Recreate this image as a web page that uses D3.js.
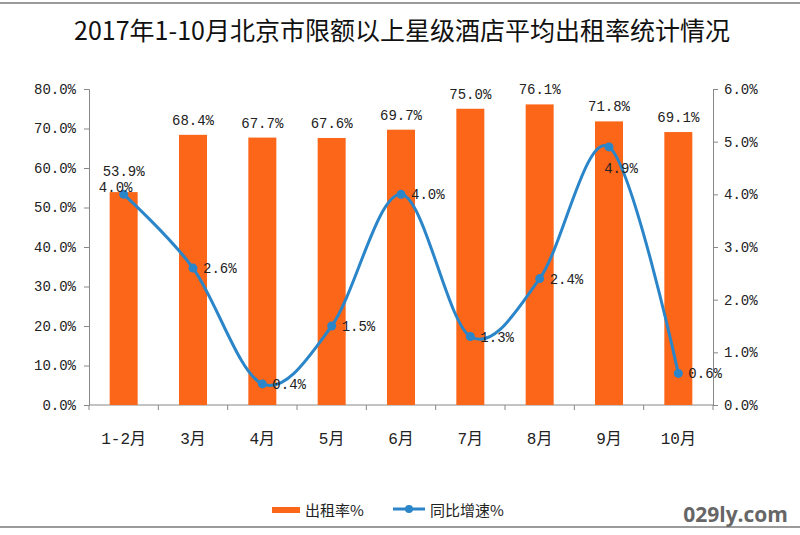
<!DOCTYPE html>
<html><head><meta charset="utf-8">
<script src="https://cdn.jsdelivr.net/npm/d3@7"></script>
<style>body{margin:0;background:#fff}svg{display:block}</style>
</head><body>
<script>
const categories = ["1-2月","3月","4月","5月","6月","7月","8月","9月","10月"];
const rentRate = [53.9,68.4,67.7,67.6,69.7,75.0,76.1,71.8,69.1];
const growth = [4.0,2.6,0.4,1.5,4.0,1.3,2.4,4.9,0.6];
const leftTicks = [0,10,20,30,40,50,60,70,80];
const rightTicks = [0,1,2,3,4,5,6];

const W=800,H=535;
const M={l:89,r:713,t:89,b:405};
const mono = "'Liberation Mono','Noto Sans CJK SC',monospace";
const svg=d3.select("body").append("svg").attr("width",W).attr("height",H);
svg.append("rect").attr("width",W).attr("height",H).attr("fill","#fff");
svg.append("line").attr("x1",0).attr("x2",W).attr("y1",3).attr("y2",3).attr("stroke","#9a9a9a").attr("stroke-width",2);
svg.append("line").attr("x1",0).attr("x2",W).attr("y1",527).attr("y2",527).attr("stroke","#9a9a9a").attr("stroke-width",2);

svg.append("text").attr("x",402).attr("y",40).attr("text-anchor","middle")
  .attr("font-family","'Noto Sans CJK SC'").attr("font-size",25).attr("font-weight",400).attr("fill","#111")
  .text("2017年1-10月北京市限额以上星级酒店平均出租率统计情况");

const x=d3.scaleBand().domain(categories).range([M.l,M.r]);
const yL=d3.scaleLinear().domain([0,80]).range([M.b,M.t]);
const yR=d3.scaleLinear().domain([0,6]).range([M.b,M.t]);
const bw=28;

// axes
const axL=svg.append("g").attr("transform",`translate(${M.l},0)`)
  .call(d3.axisLeft(yL).tickValues(leftTicks).tickSize(5).tickPadding(8).tickFormat(d=>d.toFixed(1)+"%"));
const axR=svg.append("g").attr("transform",`translate(${M.r},0)`)
  .call(d3.axisRight(yR).tickValues(rightTicks).tickSize(5).tickPadding(6).tickFormat(d=>d.toFixed(1)+"%"));
[axL,axR].forEach(a=>{a.select(".domain").attr("stroke","#888");a.selectAll(".tick line").attr("stroke","#888");
  a.selectAll("text").attr("font-family",mono).attr("font-size",14).attr("fill","#222");});

// x axis
const gx=svg.append("g");
gx.append("line").attr("x1",M.l).attr("x2",M.r).attr("y1",M.b).attr("y2",M.b).attr("stroke","#888");
const bounds=categories.map(c=>x(c)).concat([M.r]);
gx.selectAll(".xt").data(bounds).enter().append("line").attr("x1",d=>d).attr("x2",d=>d)
  .attr("y1",M.b).attr("y2",M.b+5).attr("stroke","#888");
gx.selectAll(".xl").data(categories).enter().append("text")
  .attr("x",d=>x(d)+x.bandwidth()/2).attr("y",444).attr("text-anchor","middle")
  .attr("font-family",mono).attr("font-size",16).attr("fill","#222").text(d=>d);

// bars
const barColor="#fb6619";
svg.selectAll(".bar").data(rentRate).enter().append("rect")
  .attr("x",(d,i)=>x(categories[i])+x.bandwidth()/2-bw/2).attr("width",bw)
  .attr("y",d=>yL(d)).attr("height",d=>M.b-yL(d)).attr("fill",barColor);
svg.selectAll(".bl").data(rentRate).enter().append("text")
  .attr("x",(d,i)=>x(categories[i])+x.bandwidth()/2).attr("y",(d,i)=>yL(d)-(i===0?16:10))
  .attr("text-anchor","middle").attr("font-family",mono).attr("font-size",14).attr("fill","#222")
  .text(d=>d.toFixed(1)+"%");

// line
const lineColor="#2a85c9";
const cx=i=>x(categories[i])+x.bandwidth()/2;
const line=d3.line().x((d,i)=>cx(i)).y(d=>yR(d)).curve(d3.curveCardinal.tension(0));
svg.append("path").datum(growth).attr("d",line).attr("fill","none").attr("stroke",lineColor).attr("stroke-width",3);
svg.selectAll(".pt").data(growth).enter().append("circle")
  .attr("cx",(d,i)=>cx(i)).attr("cy",d=>yR(d)).attr("r",4.5).attr("fill",lineColor);
svg.selectAll(".ll").data(growth).enter().append("text")
  .attr("x",(d,i)=> i===0? cx(i)-8 : i===7 ? cx(i)+12 : cx(i)+10)
  .attr("y",(d,i)=> i===0? yR(d)-2 : i===7 ? yR(d)+26 : yR(d)+5)
  .attr("text-anchor",(d,i)=> i===0||i===7 ? "middle":"start")
  .attr("font-family",mono).attr("font-size",14).attr("fill","#222")
  .text(d=>d.toFixed(1)+"%");

// legend
const lg=svg.append("g");
lg.append("rect").attr("x",272).attr("y",507).attr("width",28).attr("height",6).attr("fill",barColor);
lg.append("text").attr("x",305).attr("y",516).attr("font-family","'Noto Sans CJK SC'").attr("font-size",15).attr("fill","#222").text("出租率%");
lg.append("line").attr("x1",393).attr("x2",425).attr("y1",509).attr("y2",509).attr("stroke",lineColor).attr("stroke-width",3);
lg.append("circle").attr("cx",409).attr("cy",509).attr("r",4).attr("fill",lineColor);
lg.append("text").attr("x",430).attr("y",516).attr("font-family","'Noto Sans CJK SC'").attr("font-size",15).attr("fill","#222").text("同比增速%");

svg.append("text").attr("x",788).attr("y",522).attr("text-anchor","end").attr("font-family","'Open Sans'")
  .attr("font-weight",700).attr("font-size",21).attr("fill","#666").text("029ly.com");
</script>
</body></html>
